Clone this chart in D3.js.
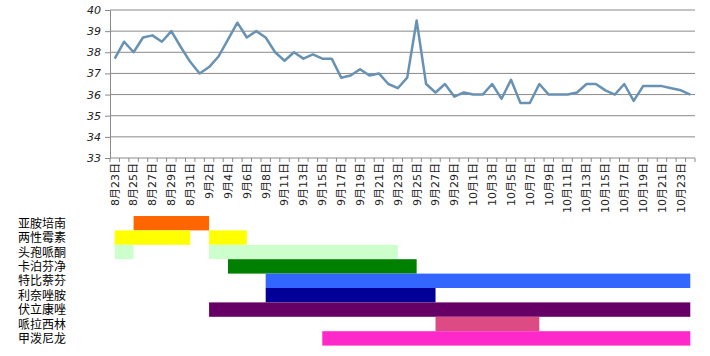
<!DOCTYPE html>
<html>
<head>
<meta charset="utf-8">
<script src="https://cdn.jsdelivr.net/npm/d3@7"></script>
<style>
  html, body { margin: 0; padding: 0; background: #fff; }
  svg { display: block; }
</style>
</head>
<body>
<svg id="chart" width="710" height="356"></svg>
<script>
// ---- data ----
const dates = [
  "8月23日","8月24日","8月25日","8月26日","8月27日","8月28日","8月29日","8月30日","8月31日",
  "9月1日","9月2日","9月3日","9月4日","9月5日","9月6日","9月7日","9月8日","9月10日",
  "9月11日","9月12日","9月13日","9月14日","9月15日","9月16日","9月17日","9月18日","9月19日","9月20日",
  "9月21日","9月22日","9月23日","9月24日","9月25日","9月26日","9月27日","9月28日","9月29日","9月30日",
  "10月1日","10月2日","10月3日","10月4日","10月5日","10月6日","10月7日","10月8日","10月9日","10月10日",
  "10月11日","10月12日","10月13日","10月14日","10月15日","10月16日","10月17日","10月18日","10月19日","10月20日",
  "10月21日","10月22日","10月23日","10月24日"
];
const temperature = [
  37.7, 38.5, 38.0, 38.7, 38.8, 38.5, 39.0, 38.25, 37.55, 37.0,
  37.3, 37.8, 38.6, 39.4, 38.7, 39.0, 38.7, 38.0, 37.6, 38.0,
  37.7, 37.9, 37.7, 37.7, 36.8, 36.9, 37.2, 36.9, 37.0, 36.5,
  36.3, 36.8, 39.5, 36.5, 36.1, 36.5, 35.9, 36.1, 36.0, 36.0,
  36.5, 35.8, 36.7, 35.6, 35.6, 36.5, 36.0, 36.0, 36.0, 36.1,
  36.5, 36.5, 36.2, 36.0, 36.5, 35.7, 36.4, 36.4, 36.4, 36.3,
  36.2, 36.0
];
const yTicks = [33, 34, 35, 36, 37, 38, 39, 40];
const drugs = ["亚胺培南","两性霉素","头孢哌酮","卡泊芬净","特比萘芬","利奈唑胺","伏立康唑","哌拉西林","甲泼尼龙"];
const drugColors = ["#ff6600","#ffff00","#ccffcc","#008000","#3366ff","#000099","#660066","#dd4b85","#ff28c8"];
// medication periods: [drug, start date, end date]
const periods = [
  ["亚胺培南","8月25日","9月2日"],
  ["两性霉素","8月23日","8月31日"],
  ["两性霉素","9月2日","9月6日"],
  ["头孢哌酮","8月23日","8月25日"],
  ["头孢哌酮","9月2日","9月23日"],
  ["卡泊芬净","9月4日","9月25日"],
  ["特比萘芬","9月8日","10月24日"],
  ["利奈唑胺","9月8日","9月27日"],
  ["伏立康唑","9月2日","10月24日"],
  ["哌拉西林","9月27日","10月8日"],
  ["甲泼尼龙","9月15日","10月24日"]
];

// ---- drawing ----
const svg = d3.select("#chart");
const x = d3.scaleBand().domain(dates).range([110, 695]).paddingInner(0).paddingOuter(0);
const cx = d => x(d) + x.bandwidth() / 2;
const y = d3.scaleLinear().domain([33, 40]).range([158, 10]);

// gridlines
svg.append("g").selectAll("line").data(yTicks.filter(t => t > 33)).join("line")
  .attr("x1", 110).attr("x2", 695)
  .attr("y1", d => y(d)).attr("y2", d => y(d))
  .attr("stroke", "#8a8a8a").attr("stroke-width", 1);

// y axis
const yAxis = svg.append("g").attr("transform", "translate(110,0)")
  .call(d3.axisLeft(y).tickValues(yTicks).tickFormat(d3.format("d")).tickSize(5).tickPadding(4));
yAxis.select(".domain").attr("stroke", "#8a8a8a");
yAxis.selectAll(".tick line").attr("stroke", "#8a8a8a");
yAxis.selectAll("text").attr("font-family", "DejaVu Sans, sans-serif").attr("font-size", 11)
  .attr("fill", "#222").attr("font-style", "italic");

// x axis line and ticks (at category boundaries)
svg.append("line").attr("x1", 110).attr("x2", 695).attr("y1", y(33)).attr("y2", y(33))
  .attr("stroke", "#8a8a8a");
svg.append("g").selectAll("line").data(dates.concat([null])).join("line")
  .attr("x1", (d, i) => i < dates.length ? x(d) : x.range()[1])
  .attr("x2", (d, i) => i < dates.length ? x(d) : x.range()[1])
  .attr("y1", y(33)).attr("y2", y(33) + 4)
  .attr("stroke", "#8a8a8a");

// x labels every other category
svg.append("g").selectAll("text").data(dates.filter((d, i) => i % 2 === 0)).join("text")
  .attr("transform", d => `translate(${cx(d)},${y(33) + 5}) rotate(-90)`)
  .attr("text-anchor", "end").attr("dy", "0.35em")
  .attr("font-family", "DejaVu Sans, 'Noto Sans CJK SC', sans-serif").attr("font-size", 11)
  .attr("fill", "#222")
  .text(d => d);

// line
const line = d3.line().x((d, i) => cx(dates[i])).y(d => y(d));
svg.append("path").datum(temperature)
  .attr("d", line).attr("fill", "none")
  .attr("stroke", "#6892b4").attr("stroke-width", 2.5).attr("stroke-linejoin", "round");

// medication bars
const row = d3.scaleBand().domain(drugs).range([216, 345.6]).paddingInner(0);
const color = d3.scaleOrdinal().domain(drugs).range(drugColors);
svg.append("g").selectAll("rect").data(periods).join("rect")
  .attr("x", d => cx(d[1]))
  .attr("width", d => cx(d[2]) - cx(d[1]))
  .attr("y", d => row(d[0]))
  .attr("height", row.bandwidth())
  .attr("fill", d => color(d[0]));

svg.append("g").selectAll("text").data(drugs).join("text")
  .attr("x", 18).attr("y", d => row(d) + row.bandwidth() / 2)
  .attr("dy", "0.38em")
  .attr("font-family", "'DejaVu Sans', 'Noto Sans CJK SC', sans-serif").attr("font-size", 12)
  .attr("fill", "#000")
  .text(d => d);
</script>
</body>
</html>
